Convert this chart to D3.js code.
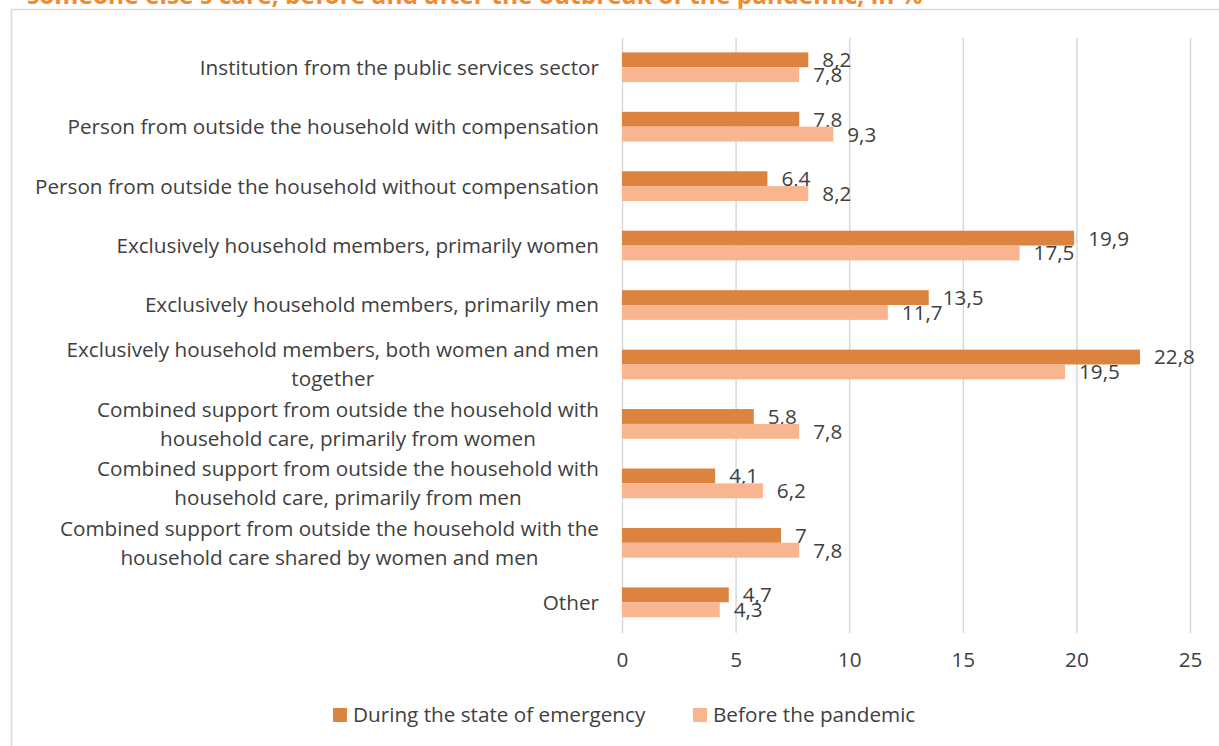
<!DOCTYPE html>
<html>
<head>
<meta charset="utf-8">
<script src="https://cdn.jsdelivr.net/npm/d3@7"></script>
<style>
  html, body { margin: 0; padding: 0; background: #fff; }
  svg { display: block; font-family: "Open Sans", "Noto Sans", sans-serif; }
</style>
</head>
<body>
<svg id="chart" width="1219" height="746"></svg>
<script>
// Care arrangements, in %
const categories = [
  ["Institution from the public services sector"],
  ["Person from outside the household with compensation"],
  ["Person from outside the household without compensation"],
  ["Exclusively household members, primarily women"],
  ["Exclusively household members, primarily men"],
  ["Exclusively household members, both women and men", "together"],
  ["Combined support from outside the household with", "household care, primarily from women"],
  ["Combined support from outside the household with", "household care, primarily from men"],
  ["Combined support from outside the household with the", "household care shared by women and men"],
  ["Other"]
];
const duringEmergency = [8.2, 7.8, 6.4, 19.9, 13.5, 22.8, 5.8, 4.1, 7.0, 4.7];
const beforePandemic  = [7.8, 9.3, 8.2, 17.5, 11.7, 19.5, 7.8, 6.2, 7.8, 4.3];
const seriesNames = ["During the state of emergency", "Before the pandemic"];
const xTicks = [0, 5, 10, 15, 20, 25];
const titleText = "someone else's care, before and after the outbreak of the pandemic, in %";

const colors = ["#DC843F", "#F8B58F"];
const textColor = "#404040";
const fs = 20.7;

const svg = d3.select("#chart");

// Title (upper part runs past the top edge)
svg.append("text")
  .attr("x", 27).attr("y", 4)
  .attr("fill", "#F28A30")
  .attr("font-weight", "bold")
  .attr("font-size", 24.5)
  .text(titleText);

// Chart frame
svg.append("rect")
  .attr("x", 11.5).attr("y", 9.5)
  .attr("width", 1240).attr("height", 760)
  .attr("fill", "none")
  .attr("stroke", "#d9d9d9")
  .attr("stroke-width", 1.5);

const x = d3.scaleLinear().domain([0, 25]).range([622, 1190]);
const y = d3.scaleBand().domain(d3.range(categories.length)).range([37.5, 632]).paddingInner(0.5).paddingOuter(0.25);
const sub = d3.scaleBand().domain([0, 1]).range([0, y.bandwidth()]);

// Vertical gridlines
svg.append("g")
  .selectAll("line")
  .data(xTicks)
  .join("line")
  .attr("x1", d => x(d) + 0.5).attr("x2", d => x(d) + 0.5)
  .attr("y1", 38).attr("y2", 633)
  .attr("stroke", "#d9d9d9")
  .attr("stroke-width", 1.5);

// X axis tick labels
const xAxis = d3.axisBottom(x).tickValues(xTicks).tickSize(0).tickPadding(0);
const gx = svg.append("g").attr("transform", "translate(0,652)").call(xAxis);
gx.select(".domain").remove();
gx.selectAll("text")
  .attr("font-size", fs)
  .attr("fill", textColor)
  .attr("font-family", "'Open Sans', sans-serif");

const fmt = v => String(v).replace(".", ",");
const series = [duringEmergency, beforePandemic];

series.forEach((vals, s) => {
  const g = svg.append("g");
  g.selectAll("rect")
    .data(vals)
    .join("rect")
    .attr("x", x(0))
    .attr("y", (d, i) => y(i) + sub(s))
    .attr("width", d => x(d) - x(0))
    .attr("height", sub.bandwidth())
    .attr("fill", colors[s]);
  g.selectAll("text")
    .data(vals)
    .join("text")
    .attr("x", d => x(d) + 14)
    .attr("y", (d, i) => y(i) + sub(s) + sub.bandwidth() / 2)
    .attr("dy", "0.36em")
    .attr("font-size", fs)
    .attr("fill", textColor)
    .text(d => fmt(d));
});

// Category labels: block right-aligned to the axis, wrapped lines centred within it
const lab = svg.append("g");
categories.forEach((lines, i) => {
  const cy = y(i) + y.bandwidth() / 2;
  const lh = 29;
  const t = lab.append("text")
    .attr("font-size", fs)
    .attr("fill", textColor);
  const spans = lines.map((ln, k) => t.append("tspan")
    .attr("y", cy + (k - (lines.length - 1) / 2) * lh)
    .attr("dy", "0.36em")
    .text(ln));
  const widths = spans.map(sp => sp.node().getComputedTextLength());
  const maxW = d3.max(widths);
  const centre = 599 - maxW / 2;
  spans.forEach(sp => sp.attr("x", centre).attr("text-anchor", "middle"));
});

// Legend
const legendItems = [{x: 333}, {x: 693}];
legendItems.forEach((it, s) => {
  svg.append("rect")
    .attr("x", it.x).attr("y", 708)
    .attr("width", 14).attr("height", 14)
    .attr("fill", colors[s]);
  svg.append("text")
    .attr("x", it.x + 20).attr("y", 715)
    .attr("dy", "0.36em")
    .attr("font-size", fs)
    .attr("fill", textColor)
    .text(seriesNames[s]);
});
</script>
</body>
</html>
